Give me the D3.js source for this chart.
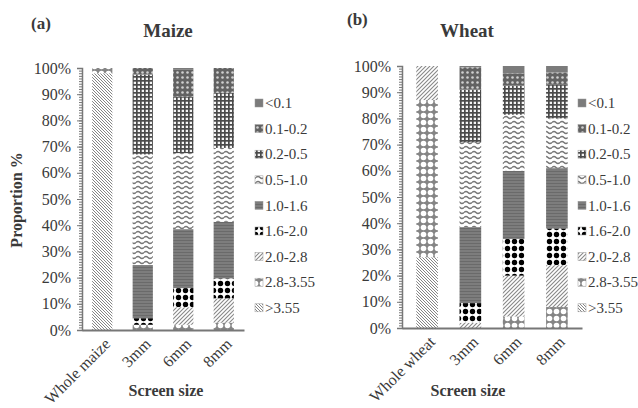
<!DOCTYPE html>
<html><head><meta charset="utf-8">
<script src="https://cdn.jsdelivr.net/npm/d3@7"></script>
<style>
html,body{margin:0;padding:0;background:#fff;}
svg{display:block;}
svg text{font-family:"Liberation Serif","DejaVu Serif","Times New Roman",serif !important;}
</style></head>
<body><svg id="chart" width="638" height="408"></svg>
<script>
// ---- data ----
const sizeClasses = ["<0.1","0.1-0.2","0.2-0.5","0.5-1.0","1.0-1.6","1.6-2.0","2.0-2.8","2.8-3.55",">3.55"];
const maizeCategories = ["Whole maize","3mm","6mm","8mm"];
const wheatCategories = ["Whole wheat","3mm","6mm","8mm"];
// values (%) per category, in the order of sizeClasses
const maizeWhole = [0,0,0,0,0,0,0,2,98];
const maize3mm   = [0,2.5,30.5,42.2,20.3,2.5,0,2,0];
const maize6mm   = [0.5,10.5,21.5,29,22.5,7.3,6.7,2,0];
const maize8mm   = [0,9.5,21,28.2,21.6,7.6,9.3,2.8,0];
const wheatWhole = [0,0,0,0,0,0,13,60,27];
const wheat3mm   = [0.5,8.5,20,32.5,29,7.5,2,0,0];
const wheat6mm   = [2.8,4.7,11.1,21.4,26,14,15.6,4.4,0];
const wheat8mm   = [2.5,4.5,13,19,23,14,16,8,0];
const yTickLabels = ["0%","10%","20%","30%","40%","50%","60%","70%","80%","90%","100%"];

const svg = d3.select("#chart");
const defs = svg.append("defs");
const txt = "#3a3a3a";

// ---- patterns ----
function pat(id, w, h, bg, draw){
  const p = defs.append("pattern").attr("id", id).attr("patternUnits","userSpaceOnUse")
    .attr("width", w).attr("height", h);
  p.append("rect").attr("width", w).attr("height", h).attr("fill", bg);
  if (draw) draw(p);
}
pat("p0",4,4,"#7b7b7b");
pat("p1",5,5,"#626262",p=>p.append("circle").attr("cx",2.5).attr("cy",2.5).attr("r",1.3).attr("fill","#d0d0d0"));
pat("p2",4,4,"#f4f4f4",p=>{p.append("rect").attr("width",4).attr("height",1.7).attr("fill","#4a4a4a");p.append("rect").attr("width",1.7).attr("height",4).attr("fill","#4a4a4a");});
pat("p3",8,5,"#fff",p=>p.append("path").attr("d","M0 2.5 Q2 0.4 4 2.5 T8 2.5").attr("fill","none").attr("stroke","#777").attr("stroke-width",1.4));
pat("p4",4,3,"#7d7d7d",p=>p.append("rect").attr("y",0).attr("width",4).attr("height",1).attr("fill","#6a6a6a"));
pat("p5",7,7,"#fff",p=>{p.append("circle").attr("cx",3.5).attr("cy",3.5).attr("r",2.7).attr("fill","#000");});
pat("p6",4,4,"#fff",p=>p.append("path").attr("d","M-1,1 l2,-2 M0,4 l4,-4 M3,5 l2,-2").attr("stroke","#888").attr("stroke-width",1.1));
pat("p7",7,7,"#858585",p=>p.append("circle").attr("cx",3.5).attr("cy",3.5).attr("r",2.8).attr("fill","#fff"));
pat("p8",3,3,"#fff",p=>p.append("path").attr("d","M-1,2 l2,2 M0,0 l3,3 M2,-1 l2,2").attr("stroke","#777").attr("stroke-width",0.9));
const fills = sizeClasses.map((d,i)=>"url(#p"+i+")");

// ---- panel builder ----
function panel(cfg){
  const g = svg.append("g");
  const x = d3.scaleBand().domain(cfg.categories).range([cfg.x0, cfg.x1]).paddingInner(0.5).paddingOuter(cfg.outer);
  const y = d3.scaleLinear().domain([0,100]).range([cfg.y0, cfg.y1]);

  const order = d3.range(sizeClasses.length).reverse();
  cfg.values.forEach((vals, ci)=>{
    let acc = 0;
    order.forEach(k=>{
      const v = vals[k];
      if (v <= 0) return;
      g.append("rect")
        .attr("x", x(cfg.categories[ci]))
        .attr("width", x.bandwidth())
        .attr("y", y(acc+v))
        .attr("height", y(acc)-y(acc+v))
        .attr("fill", fills[k]);
      acc += v;
    });
  });

  const minor = d3.axisLeft(y).tickValues(d3.range(0,101,1)).tickSize(3).tickFormat("");
  const gm = g.append("g").attr("transform",`translate(${cfg.x0},0)`).call(minor);
  gm.selectAll("line").attr("stroke","#777");
  gm.select(".domain").remove();
  const major = d3.axisLeft(y).tickValues(d3.range(0,101,10)).tickSize(5)
    .tickFormat((d,i)=>yTickLabels[i]).tickPadding(6);
  const ga = g.append("g").attr("transform",`translate(${cfg.x0},0)`).call(major);
  ga.select(".domain").attr("stroke","#777").attr("stroke-width",1.5);
  ga.selectAll("line").attr("stroke","#777");
  ga.selectAll("text").attr("font-size",16).attr("fill",txt);

  const xa = d3.axisBottom(x).tickSize(0).tickPadding(0);
  const gx = g.append("g").attr("transform",`translate(0,${cfg.y0})`).call(xa);
  gx.select(".domain").attr("stroke","#777").attr("stroke-width",1.8);
  gx.selectAll("text")
    .attr("font-size",16).attr("fill",txt)
    .attr("text-anchor","end").attr("dy","0.35em")
    .attr("transform",`translate(5,11) rotate(-45)`);

  g.append("text").attr("x",cfg.labelX).attr("y",cfg.labelY).text(cfg.label)
    .attr("font-weight","bold").attr("font-size",17).attr("fill",txt);
  g.append("text").attr("x",cfg.titleX).attr("y",37).attr("text-anchor","middle").text(cfg.title)
    .attr("font-weight","bold").attr("font-size",19).attr("fill",txt);
  g.append("text").attr("x",cfg.xTitleX).attr("y",396).attr("text-anchor","middle").text("Screen size")
    .attr("font-weight","bold").attr("font-size",16).attr("fill",txt);

  const lg = g.append("g");
  sizeClasses.forEach((s,i)=>{
    const yy = 103 + i*25.6;
    lg.append("rect").attr("x",cfg.legX).attr("y",yy-4).attr("width",8).attr("height",8)
      .attr("fill",fills[i]).attr("stroke","#999").attr("stroke-width",0.5);
    lg.append("text").attr("x",cfg.legX+10).attr("y",yy).attr("dy","0.35em")
      .attr("font-size",15).attr("fill",txt).text(s);
  });
}

panel({categories: maizeCategories, values:[maizeWhole,maize3mm,maize6mm,maize8mm],
  x0:82, x1:244, outer:0.25, y0:330, y1:68, label:"(a)", labelX:31, labelY:29,
  title:"Maize", titleX:168, xTitleX:166, legX:255});
panel({categories: wheatCategories, values:[wheatWhole,wheat3mm,wheat6mm,wheat8mm],
  x0:402, x1:582, outer:0.33, y0:328, y1:66, label:"(b)", labelX:347, labelY:25,
  title:"Wheat", titleX:467, xTitleX:468, legX:578});

svg.append("text").attr("transform","translate(22,200) rotate(-90)").attr("text-anchor","middle")
  .attr("font-weight","bold").attr("font-size",16).attr("fill",txt).text("Proportion %");
</script>
</body></html>
